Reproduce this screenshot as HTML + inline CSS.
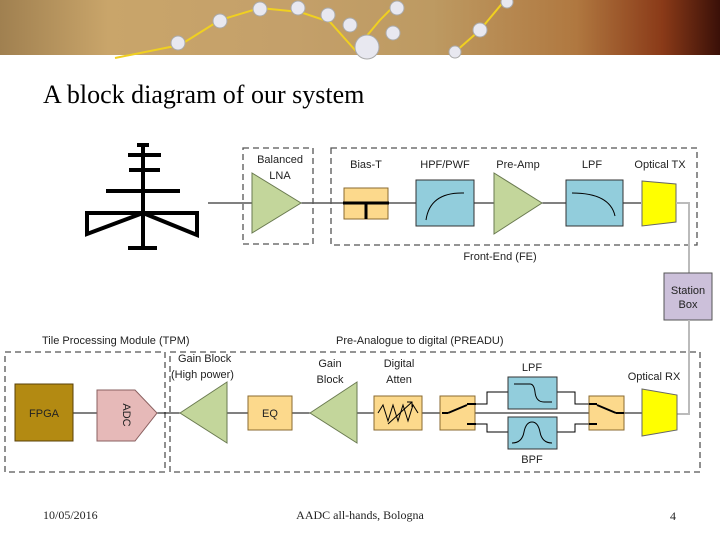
<!DOCTYPE html>
<html><head><style>
body{margin:0;width:720px;height:540px;background:#fff;overflow:hidden;position:relative}
.hdr{position:absolute;left:0;top:0;width:720px;height:55px;background:linear-gradient(90deg,#a08050 0%,#c9a56a 15%,#c4a06a 40%,#bd9a62 60%,#b07840 80%,#8a3a18 92%,#3a1008 100%)}
</style></head><body>
<div class="hdr"></div>
<svg width="720" height="540" style="position:absolute;left:0;top:0" font-family="Liberation Sans, sans-serif">
<g fill="#e8e8f0" stroke="#aaa" stroke-width="1">
<polyline points="115,58 180,45 220,20 260,8 300,12 330,22 355,50 380,20 395,5" fill="none" stroke="#f0d020" stroke-width="2"/>
<polyline points="455,52 480,30 505,0" fill="none" stroke="#f0d020" stroke-width="2"/>
<circle cx="178" cy="43" r="7"/><circle cx="220" cy="21" r="7"/><circle cx="260" cy="9" r="7"/><circle cx="298" cy="8" r="7"/><circle cx="328" cy="15" r="7"/><circle cx="350" cy="25" r="7"/><circle cx="367" cy="47" r="12"/><circle cx="393" cy="33" r="7"/><circle cx="397" cy="8" r="7"/><circle cx="480" cy="30" r="7"/><circle cx="455" cy="52" r="6"/><circle cx="507" cy="2" r="6"/>
</g>
<text x="43" y="103" font-family="Liberation Serif, serif" font-size="26" fill="#000">A block diagram of our system</text>

<g stroke="#000" stroke-width="4" fill="none">
<line x1="143" y1="145" x2="143" y2="248"/>
<line x1="137" y1="145" x2="149" y2="145"/>
<line x1="128" y1="155" x2="161" y2="155"/>
<line x1="129" y1="170" x2="160" y2="170"/>
<line x1="106" y1="191" x2="180" y2="191"/>
<line x1="128" y1="248" x2="157" y2="248"/>
<polyline points="143,213 87,234 87,213 197,213 197,235 143,213" stroke-linejoin="miter"/>
</g>

<line x1="208" y1="203" x2="641" y2="203" stroke="#000" stroke-width="1"/>
<g fill="none" stroke="#555" stroke-width="1.3" stroke-dasharray="6,4">
<rect x="243" y="148" width="70" height="96"/>
<rect x="331" y="148" width="366" height="97"/>
<rect x="5" y="352" width="160" height="120"/>
<rect x="170" y="352" width="530" height="120"/>
</g>
<g font-size="11" fill="#222" text-anchor="middle">
<text x="280" y="163">Balanced</text><text x="280" y="179">LNA</text>
<text x="366" y="168">Bias-T</text><text x="445" y="168">HPF/PWF</text><text x="518" y="168">Pre-Amp</text><text x="592" y="168">LPF</text><text x="660" y="168">Optical TX</text>
<text x="500" y="260">Front-End (FE)</text>
</g>
<polygon points="252,173 252,233 301,203" fill="#c3d69b" stroke="#6a7a50"/>
<rect x="344" y="188" width="44" height="31" fill="#fcd98c" stroke="#8a6a30"/>
<line x1="343" y1="203" x2="389" y2="203" stroke="#000" stroke-width="3"/>
<line x1="366" y1="203" x2="366" y2="219" stroke="#000" stroke-width="3"/>
<rect x="416" y="180" width="58" height="46" fill="#92cddc" stroke="#333"/>
<path d="M426,220 Q430,192 464,193" fill="none" stroke="#000"/>
<polygon points="494,173 494,234 542,203" fill="#c3d69b" stroke="#6a7a50"/>
<rect x="566" y="180" width="57" height="46" fill="#92cddc" stroke="#333"/>
<path d="M572,193 Q610,193 615,216" fill="none" stroke="#000"/>
<polygon points="642,181 676,184 676,222 642,226" fill="#ffff00" stroke="#666"/>
<polyline points="676,203 689,203 689,273" fill="none" stroke="#bbb" stroke-width="2"/>
<rect x="664" y="273" width="48" height="47" fill="#ccc0da" stroke="#555"/>
<g font-size="11" fill="#222" text-anchor="middle">
<text x="688" y="294">Station</text><text x="688" y="308">Box</text>
</g>
<polyline points="689,320 689,414 677,414" fill="none" stroke="#bbb" stroke-width="2"/>

<g font-size="11" fill="#222">
<text x="42" y="344">Tile Processing Module (TPM)</text>
<text x="336" y="344">Pre-Analogue to digital (PREADU)</text>
<text x="178" y="362">Gain Block</text><text x="171" y="378">(High power)</text>
</g>
<g font-size="11" fill="#222" text-anchor="middle">
<text x="330" y="367">Gain</text><text x="330" y="383">Block</text>
<text x="399" y="367">Digital</text><text x="399" y="383">Atten</text>
<text x="532" y="371">LPF</text><text x="532" y="463">BPF</text>
<text x="654" y="380">Optical RX</text>
</g>
<line x1="73" y1="413" x2="642" y2="413" stroke="#000"/>
<rect x="15" y="384" width="58" height="57" fill="#b38a12" stroke="#5a4008"/>
<text x="44" y="417" font-size="11" text-anchor="middle" fill="#222">FPGA</text>
<polygon points="97,390 135,390 157,413 135,441 97,441" fill="#e6b9b8" stroke="#8a6060"/>
<text x="0" y="0" font-size="11" fill="#222" text-anchor="middle" transform="translate(123,415) rotate(90)">ADC</text>
<polygon points="180,413 227,382 227,443" fill="#c3d69b" stroke="#6a7a50"/>
<rect x="248" y="396" width="44" height="34" fill="#fcd98c" stroke="#8a6a30"/>
<text x="270" y="417" font-size="11" text-anchor="middle" fill="#222">EQ</text>
<polygon points="310,413 357,382 357,443" fill="#c3d69b" stroke="#6a7a50"/>
<rect x="374" y="396" width="48" height="34" fill="#fcd98c" stroke="#8a6a30"/>
<polyline points="378,413 383,405 388,421 393,405 398,421 403,405 408,421 413,405 418,413" fill="none" stroke="#000"/>
<line x1="388" y1="424" x2="412" y2="402" stroke="#000"/>
<polyline points="407,402 412,402 412,407" fill="none" stroke="#000"/>
<rect x="440" y="396" width="35" height="34" fill="#fcd98c" stroke="#8a6a30"/>
<line x1="442" y1="413" x2="448" y2="413" stroke="#000" stroke-width="2"/>
<line x1="448" y1="413" x2="467" y2="405" stroke="#000" stroke-width="2"/>
<line x1="467" y1="404" x2="476" y2="404" stroke="#000" stroke-width="2"/>
<line x1="467" y1="424" x2="476" y2="424" stroke="#000" stroke-width="2"/>
<g fill="none" stroke="#000">
<polyline points="476,404 487,404 487,392 508,392"/>
<polyline points="476,424 487,424 487,432 508,432"/>
<polyline points="557,392 575,392 575,404 590,404"/>
<polyline points="557,432 575,432 575,424 590,424"/>
</g>
<rect x="508" y="377" width="49" height="32" fill="#92cddc" stroke="#333"/>
<path d="M514,384 L530,384 Q534,384 535,392 Q536,402 544,402 L552,402" fill="none" stroke="#000"/>
<rect x="508" y="417" width="49" height="32" fill="#92cddc" stroke="#333"/>
<path d="M512,443 Q522,443 524,432 Q526,422 532,422 Q538,422 540,432 Q542,443 552,443" fill="none" stroke="#000"/>
<rect x="589" y="396" width="35" height="34" fill="#fcd98c" stroke="#8a6a30"/>
<line x1="589" y1="404" x2="597" y2="404" stroke="#000" stroke-width="2"/>
<line x1="589" y1="424" x2="597" y2="424" stroke="#000" stroke-width="2"/>
<line x1="597" y1="405" x2="616" y2="413" stroke="#000" stroke-width="2"/>
<line x1="616" y1="413" x2="624" y2="413" stroke="#000" stroke-width="2"/>
<polygon points="642,389 677,395 677,430 642,436" fill="#ffff00" stroke="#666"/>

<g font-family="Liberation Serif, serif" font-size="12" fill="#222">
<text x="43" y="519">10/05/2016</text>
<text x="360" y="519" text-anchor="middle">AADC all-hands, Bologna</text>
<text x="670" y="520">4</text>
</g>
</svg>
</body></html>
